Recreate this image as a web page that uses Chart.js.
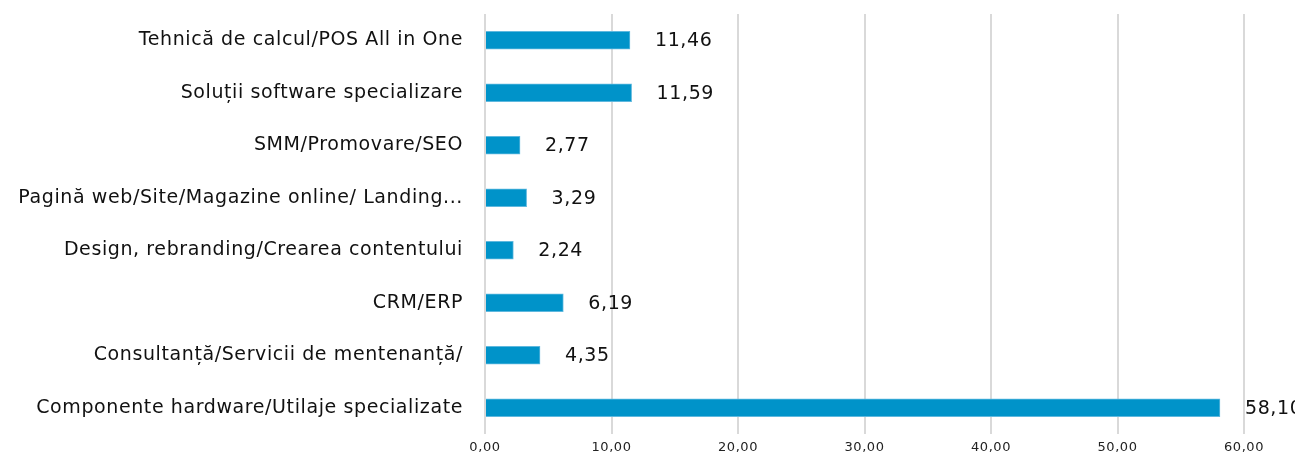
<!DOCTYPE html>
<html>
<head>
<meta charset="utf-8">
<script src="https://cdn.jsdelivr.net/npm/chart.js@4"></script>
<style>
  html, body { margin: 0; padding: 0; background: #fff; }
  #wrap { width: 1295px; height: 462px; }
</style>
</head>
<body>
<div id="wrap"><canvas id="chart" width="1295" height="462"></canvas></div>
<script>
// categorii (de sus în jos)
const categories = [
  'Tehnică de calcul/POS All in One',
  'Soluții software specializare',
  'SMM/Promovare/SEO',
  'Pagină web/Site/Magazine online/ Landing...',
  'Design, rebranding/Crearea contentului',
  'CRM/ERP',
  'Consultanță/Servicii de mentenanță/',
  'Componente hardware/Utilaje specializate'
];
const values = [11.46, 11.59, 2.77, 3.29, 2.24, 6.19, 4.35, 58.10];
const xTicks = [0, 10, 20, 30, 40, 50, 60];

const fmt = v => v.toFixed(2).replace('.', ',');
const FONT = 'DejaVu Sans';

// puțin spațiu între litere (fontul original e mai lat)
const spacing = {
  id: 'spacing',
  beforeDraw(chart) { chart.ctx.letterSpacing = '0.6px'; }
};

// etichete cu valori la capătul barelor
const valueLabels = {
  id: 'valueLabels',
  afterDatasetsDraw(chart) {
    const ctx = chart.ctx;
    const meta = chart.getDatasetMeta(0);
    ctx.save();
    ctx.letterSpacing = '0.6px';
    ctx.font = '19px "' + FONT + '"';
    ctx.fillStyle = '#111';
    ctx.textBaseline = 'middle';
    ctx.textAlign = 'left';
    meta.data.forEach((bar, i) => {
      ctx.fillText(fmt(values[i]), bar.x + 25, bar.y + 1);
    });
    ctx.restore();
  }
};

new Chart(document.getElementById('chart'), {
  type: 'bar',
  data: {
    labels: categories,
    datasets: [{
      data: values,
      backgroundColor: '#0093c9',
      borderColor: '#5fb8de',
      borderWidth: 1,
      barThickness: 18
    }]
  },
  options: {
    indexAxis: 'y',
    responsive: false,
    animation: false,
    layout: { padding: { left: 8, right: 51, top: 14, bottom: 0 } },
    plugins: {
      legend: { display: false },
      tooltip: { enabled: false }
    },
    scales: {
      x: {
        min: 0,
        max: 60,
        afterBuildTicks: s => { s.ticks = xTicks.map(v => ({ value: v })); },
        afterFit: s => { s.height = 28; s.paddingLeft = 0; s.paddingRight = 0; },
        grid: { color: '#d9d9d9', lineWidth: 2, drawTicks: false },
        border: { display: false },
        ticks: {
          color: '#222',
          padding: 6,
          font: { family: FONT, size: 13 },
          callback: v => fmt(v)
        }
      },
      y: {
        grid: { display: false, drawTicks: false },
        border: { display: false },
        afterFit: s => { s.width = 477; s.paddingTop = 0; s.paddingBottom = 0; },
        ticks: {
          color: '#111',
          padding: 22,
          font: { family: FONT, size: 19 }
        }
      }
    }
  },
  plugins: [spacing, valueLabels]
});
</script>
</body>
</html>
